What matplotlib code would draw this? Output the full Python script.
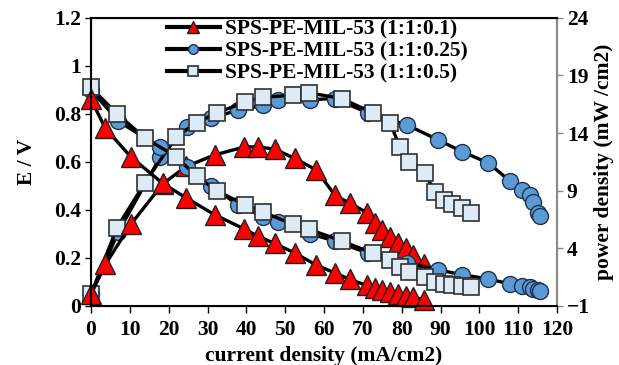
import matplotlib.pyplot as plt
import matplotlib.lines as mlines

plt.rcParams['font.family'] = 'Liberation Serif'
plt.rcParams['font.weight'] = 'bold'

labels = ['SPS-PE-MIL-53 (1:1:0.1)', 'SPS-PE-MIL-53 (1:1:0.25)', 'SPS-PE-MIL-53 (1:1:0.5)']

# 1:1:0.1 (triangles)
i_01 = [0, 3.7, 10.3, 18.5, 24.5, 31.8, 39.5, 43, 47.3, 52.5, 58, 62.8, 66.7, 71, 73, 75, 77, 79, 81, 83, 85.8]
e_01 = [0.86, 0.74, 0.62, 0.51, 0.45, 0.38, 0.32, 0.29, 0.26, 0.22, 0.17, 0.137, 0.11, 0.085, 0.075,
        0.065, 0.058, 0.05, 0.042, 0.035, 0.025]
p_01 = [0, 2.6, 6.1, 9.6, 11.1, 12.1, 12.8, 12.8, 12.6, 11.8, 10.8, 8.6, 7.9, 7.1, 6.2, 5.6, 5.0, 4.5,
        4.0, 3.4, 2.6]

# 1:1:0.25 (circles)
i_025 = [0, 7, 17.8, 24.6, 31, 37.9, 44.4, 48.2, 56.4, 62.8, 71.3, 81.4, 89.4, 95.5, 102.3, 108, 111,
         113, 113.8, 115, 115.6]
e_025 = [0.90, 0.77, 0.66, 0.58, 0.50, 0.42, 0.37, 0.35, 0.30, 0.27, 0.22, 0.18, 0.15, 0.13, 0.112,
         0.091, 0.083, 0.078, 0.072, 0.066, 0.062]
p_025 = [0, 5.4, 11.9, 14.5, 15.3, 16.0, 16.4, 16.9, 16.9, 17.0, 15.75, 14.7, 13.4, 12.4, 11.4, 9.8,
         9.1, 8.6, 8.0, 7.1, 6.8]

# 1:1:0.5 (squares)
i_05 = [0, 6.7, 13.9, 22, 27.2, 32.4, 39.7, 44.4, 52, 56, 64.6, 72.5, 77, 79.5, 82, 86, 88.5, 91, 93,
        95.5, 97.8]
e_05 = [0.91, 0.80, 0.70, 0.62, 0.54, 0.48, 0.42, 0.39, 0.34, 0.32, 0.27, 0.22, 0.19, 0.16, 0.14,
        0.12, 0.10, 0.093, 0.087, 0.082, 0.078]
p_05 = [0, 5.8, 9.7, 13.7, 14.9, 15.75, 16.7, 17.1, 17.3, 17.5, 17.0, 15.75, 14.9, 12.8, 11.5, 10.5,
        8.9, 8.2, 7.8, 7.5, 7.1]

x_ticks = list(range(0, 121, 10))
e_ticks = [0, 0.2, 0.4, 0.6, 0.8, 1.0, 1.2]
e_ticklabels = ['0', '0.2', '0.4', '0.6', '0.8', '1', '1.2']
p_ticks = [-1, 4, 9, 14, 19, 24]

tri = dict(marker='^', ms=14.5, mfc='#ff0000', mec='#202020', mew=1)
circ = dict(marker='o', ms=11.5, mfc='#5b9bd5', mec='#1f2f4f', mew=1)
sq = dict(marker='s', ms=12, mfc='#ddebf7', mec='#303030', mew=1.2)
lw = 2.4
fs = 15.5

fig = plt.figure(figsize=(6.19, 3.65), dpi=100)
ax = fig.add_axes([0.147, 0.162, 0.753, 0.789])
ax2 = ax.twinx()

# power curves on secondary axis
ax2.plot(i_025, p_025, color='black', lw=lw, clip_on=False, **circ)
ax2.plot(i_05, p_05, color='black', lw=lw, clip_on=False, **sq)
ax2.plot(i_01, p_01, color='black', lw=lw, clip_on=False, **tri)

# polarization curves
ax.plot(i_025, e_025, color='black', lw=lw, clip_on=False, **circ)
ax.plot(i_05, e_05, color='black', lw=lw, clip_on=False, **sq)
ax.plot(i_01, e_01, color='black', lw=lw, clip_on=False, **tri)
ax.set_zorder(ax2.get_zorder() + 1)
ax.patch.set_visible(False)

ax.set_xlim(0, 120)
ax.set_ylim(0, 1.2)
ax2.set_ylim(-1, 24)
ax.set_xticks(x_ticks)
ax.set_yticks(e_ticks)
ax.set_yticklabels(e_ticklabels)
ax2.set_yticks(p_ticks)
for a in (ax, ax2):
    a.tick_params(labelsize=fs, width=1, length=4, pad=3)
ax.tick_params(axis='x', length=5, pad=5.5)
for s in ('left', 'bottom', 'top'):
    ax.spines[s].set_linewidth(1.5)
ax.spines['right'].set_visible(False)
ax2.spines['right'].set_color('#888888')
ax2.spines['right'].set_linewidth(1.5)
ax2.tick_params(color='#888888')

ax.set_xlabel('current density (mA/cm2)', fontsize=fs, fontweight='bold', labelpad=4)
ax.set_ylabel('E / V', fontsize=fs, fontweight='bold', labelpad=12)
ax2.set_ylabel('power density (mW /cm2)', fontsize=fs, fontweight='bold', labelpad=3)

handles = [mlines.Line2D([], [], color='black', lw=3, **dict(tri, ms=8)),
           mlines.Line2D([], [], color='black', lw=3, **dict(circ, ms=7)),
           mlines.Line2D([], [], color='black', lw=3, **dict(sq, ms=7))]
ax.legend(handles, labels, loc='upper left', bbox_to_anchor=(0.163, 0.993), frameon=False,
          fontsize=fs, handlelength=2.45, handletextpad=0.25, labelspacing=0.07,
          borderpad=0, borderaxespad=0)

fig.savefig('out.png', dpi=100)
